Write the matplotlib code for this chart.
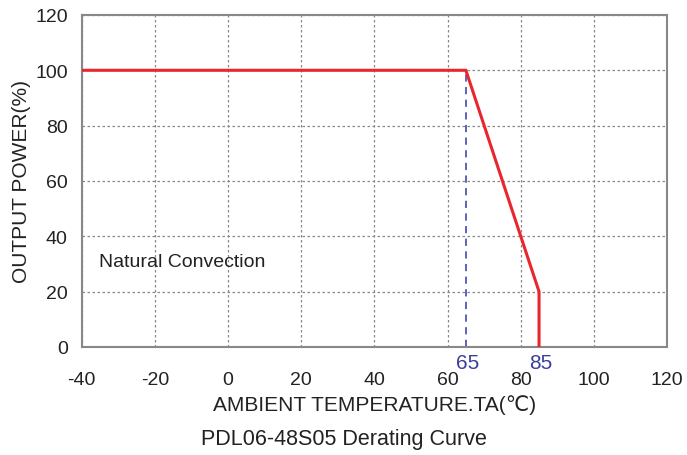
import numpy as np
import matplotlib
matplotlib.use("Agg")
from matplotlib import pyplot as plt

plt.rcParams['font.family'] = ['Liberation Sans', 'DejaVu Sans']
plt.rcParams['axes.unicode_minus'] = False

# derating curve
temp = [-40, 65, 85, 85]
power = [100, 100, 20, 0]
knee_temp = 65
knee_power = 100
x_ticks = [-40, -20, 0, 20, 40, 60, 80, 100, 120]
y_ticks = [0, 20, 40, 60, 80, 100, 120]
mark_labels = [65, 85]

fig = plt.figure(figsize=(6.87, 4.56), dpi=100)
ax = fig.add_axes([0.119, 0.237, 0.852, 0.728])

ax.plot(temp, power, color='#e8262b', lw=2.2, solid_joinstyle='miter', zorder=3)
ax.plot([knee_temp, knee_temp], [0, knee_power], color='#5058b0', lw=1.3,
        linestyle=(0, (4, 3)), zorder=2)

ax.set_xlim(-40, 120)
ax.set_ylim(0, 120)
ax.set_xticks(x_ticks)
ax.set_yticks(y_ticks)
ax.tick_params(length=0, labelsize=14, colors='#222222')
ax.tick_params(axis='x', pad=17)
ax.tick_params(axis='y', pad=10)
ax.grid(True, color='#888888', linestyle=(0, (2, 2)), lw=0.9)

for s in ax.spines.values():
    s.set_color('#888888')
    s.set_linewidth(1.5)

for m in mark_labels:
    ax.text(m + 0.6, -5.5, str(m), color='#3a3f9a', fontsize=15, ha='center', va='center',
            clip_on=False)

ax.text(-35.2, 31, 'Natural Convection', fontsize=14, va='center', color='#222222')

ax.set_xlabel('AMBIENT TEMPERATURE.TA(\u2103)', fontsize=15, labelpad=5, color='#222222')
ax.set_ylabel('OUTPUT POWER(%)', fontsize=15, labelpad=3, color='#222222')

fig.text(0.5, 1 - 440 / 456, 'PDL06-48S05 Derating Curve', ha='center', va='center',
         fontsize=15.5, color='#222222')

fig.savefig('out.png', dpi=100)
